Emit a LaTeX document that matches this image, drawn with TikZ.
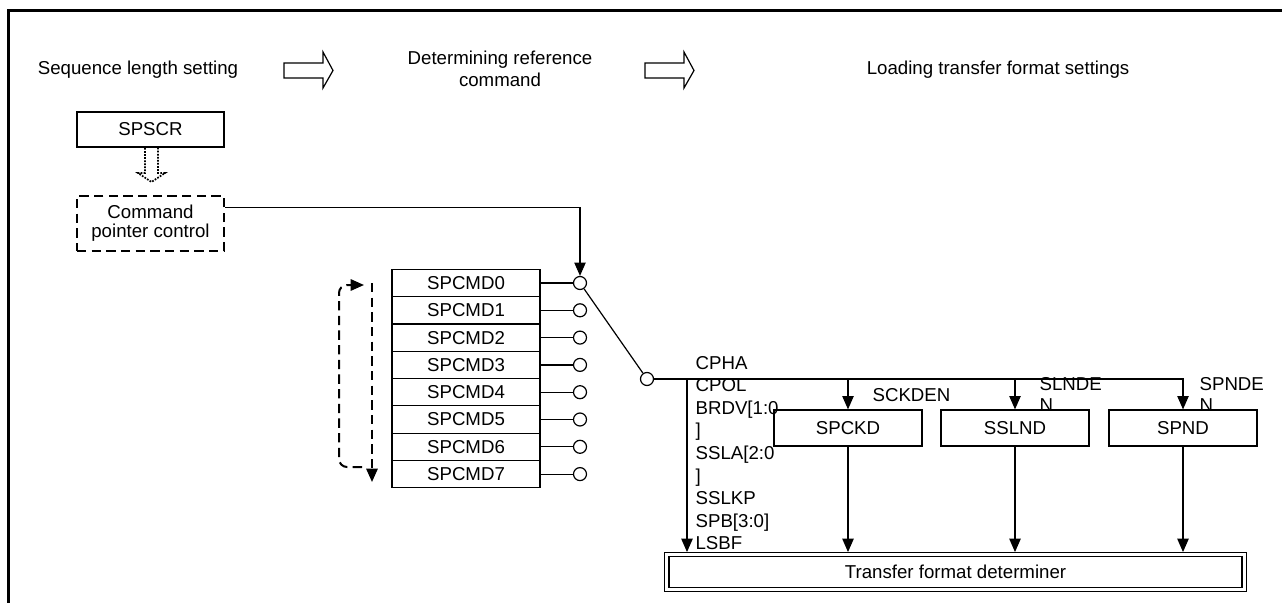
\documentclass[tikz,border=0pt]{standalone}
\usepackage{fontspec}
\setmainfont{Liberation Sans}
\usepackage{tikz}
\usetikzlibrary{arrows.meta, calc}

\tikzset{
  reg/.style = {draw, minimum width=111pt, minimum height=20.5pt, inner sep=0pt},
  sw/.style = {circle, draw, fill=white, minimum size=9.75pt, inner sep=0pt},
  lbl/.style = {inner sep=0pt, anchor=base west},
  flowarrow/.style = {-{Triangle[length=10pt, width=8.5pt]}},
  loopline/.style = {line width=1.5pt, dash pattern=on 7pt off 4pt},
}

\begin{document}
\begin{tikzpicture}[x=0.75pt, y=-0.75pt, font=\fontsize{14}{16.5}\selectfont, line width=0.9pt]
  \useasboundingbox (0,0) rectangle (1282,603);
  \draw[line width=2.25pt] (8,603) -- (8,10.5) -- (1282,10.5);

  % stages
  \node (hseq) at (138,70) {Sequence length setting};
  \node[align=center] (href) at (500,69) {Determining reference\\command};
  \node (hload) at (998,70) {Loading transfer format settings};
  \draw (284,63) -- (323,63) -- (323,52) -- (333,70.5) -- (323,88) -- (323,78) -- (284,78) -- cycle;
  \draw (645,63) -- (684,63) -- (684,52) -- (694,70.5) -- (684,88) -- (684,78) -- (645,78) -- cycle;

  % sequence length
  \node[reg, minimum width=110.25pt, minimum height=26.25pt] (spscr) at (150.5,129.5) {SPSCR};
  \node[reg, loopline, minimum width=110.25pt, minimum height=41.25pt, align=center,
        font=\fontsize{14}{14.25}\selectfont] (cpc) at (150.5,223.5) {Command\\pointer control};
  \draw[densely dotted, line width=1.3pt] (145,148) -- (145,173) -- (138,173) -- (151.5,182)
    -- (165,173) -- (158,173) -- (158,148);

  % command registers
  \foreach \i in {0,...,7} {
    \node[reg] (cmd\i) at (466,283+27.3*\i) {SPCMD\i};
    \node[sw] (sw\i) at (580,283+27.3*\i) {};
    \draw (cmd\i) -- (sw\i);
  }
  \node[sw] (swout) at (647,379) {};
  \draw (sw0) -- (swout);
  \draw[flowarrow] ($(cpc.north east)!0.22!(cpc.south east)$) -| (sw0);

  \draw[flowarrow, loopline, rounded corners=6pt] (362,467) -- (339,467) -- (339,285) -- (364,285);
  \draw[flowarrow, loopline] (372,283) -- (372,482);

  % transfer format
  \node[reg, minimum height=27pt] (spckd) at (848,428) {SPCKD};
  \node[reg, minimum height=27pt] (sslnd) at (1015,428) {SSLND};
  \node[reg, minimum height=27pt] (spnd) at (1183,428) {SPND};
  \node[draw, double, double distance=2.25pt, minimum width=433pt, minimum height=26pt, inner sep=0pt]
    (fmt) at (955.5,572) {Transfer format determiner};

  \coordinate (bus0) at (687,379);
  \draw[flowarrow] (swout) -| (spnd);
  \draw[flowarrow] (spckd |- swout) -- (spckd);
  \draw[flowarrow] (sslnd |- swout) -- (sslnd);
  \draw[flowarrow, shorten >=1.5pt] (bus0) -- (bus0 |- fmt.north);
  \foreach \b in {spckd, sslnd, spnd}
    \draw[flowarrow, shorten >=1.5pt] (\b) -- (\b |- fmt.north);

  \node[lbl] (sckden) at (872,401.7) {SCKDEN};
  \node[lbl] (slnden) at (1039,390) {SLNDE};
  \node[lbl] (slnden2) at (1039,411) {N};
  \node[lbl] (spnden) at (1199,390) {SPNDE};
  \node[lbl] (spnden2) at (1199,411) {N};
  \foreach \t [count=\k from 0] in {CPHA, CPOL, {BRDV[1:0}, ], {SSLA[2:0}, ], SSLKP, {SPB[3:0]}, LSBF}
    \node[lbl] (bit\k) at (695,369+22.6*\k) {\t};
\end{tikzpicture}
\end{document}
